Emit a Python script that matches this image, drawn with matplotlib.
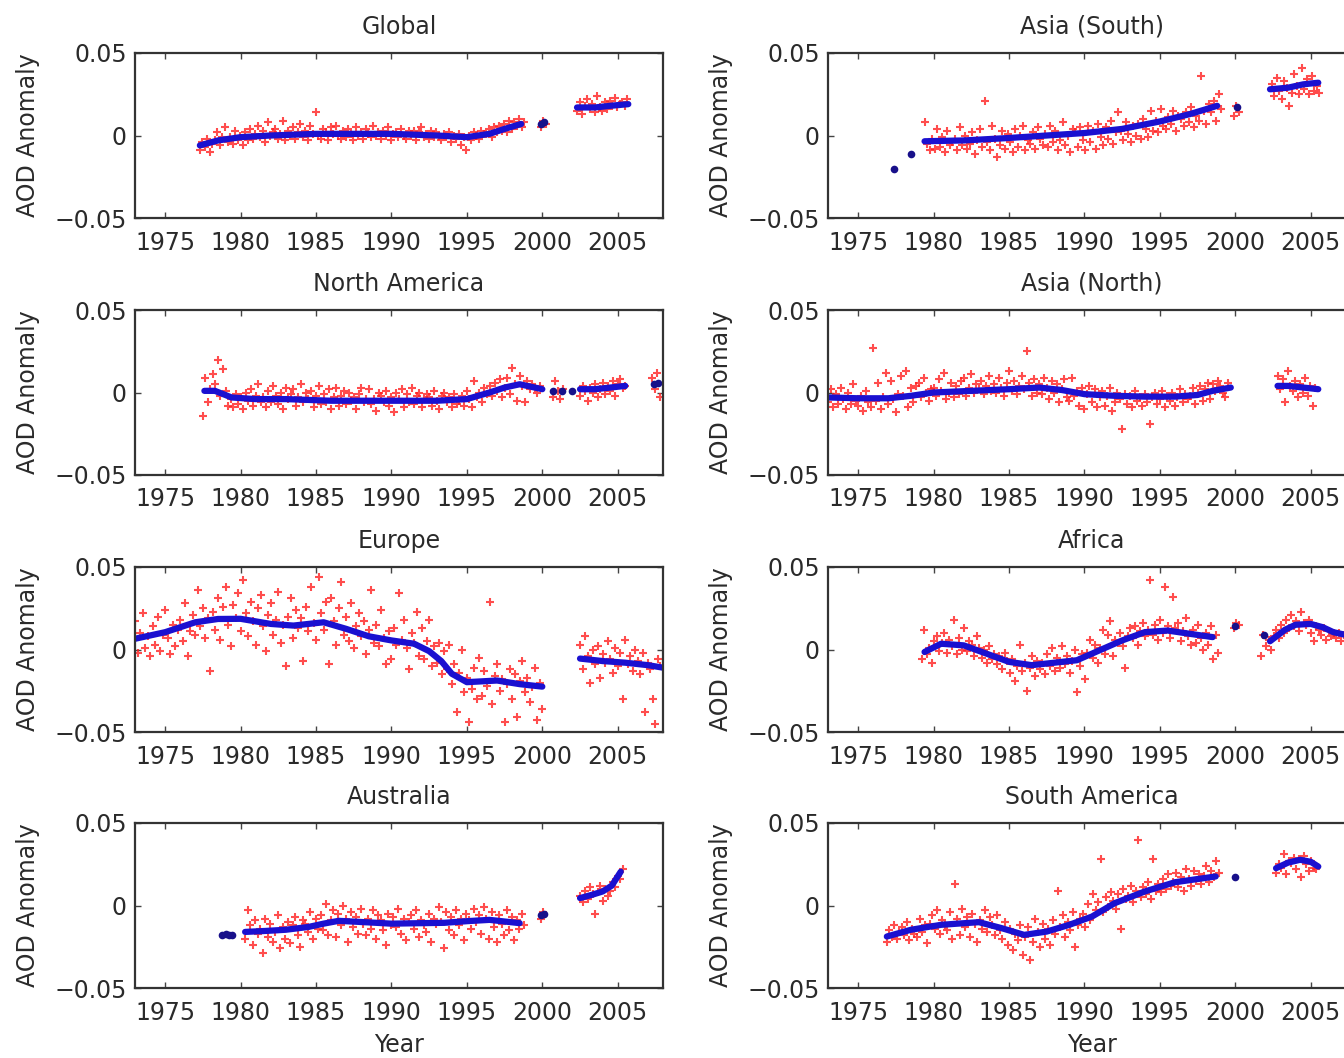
import numpy as np
import matplotlib
matplotlib.use('Agg')
from matplotlib import pyplot as plt

# red points are every two months, values below are in units of 1e-3 AOD
STEP = 1.0 / 6
SCALE = 1e-3

year_ticks = [1975, 1980, 1985, 1990, 1995, 2000, 2005]

# ---------------- Global ----------------
global_red_start = [1977.3, 1999.9, 2002.3]
global_red = [
    [-9, -4, -7, -2, -10, -5, -3, 2, -6, -1, 5, -4, -1, -5, 3, -3, 0, -6,
     2, -3, 4, -2, 1, 6, -1, 3, -4, 8, 0, 2, 4, -2, 1, 9, -3, 3,
     0, 5, -2, 2, 7, -1, 3, -3, 6, 1, 14, 0, -2, 4, 2, -3, 5, 1,
     6, 0, -2, 3, -1, 4, 1, -3, 5, 0, 2, -2, 4, 1, -1, 6, 0, 2,
     -2, 3, 0, 5, -3, 1, 2, -1, 4, 0, -2, 3, 0, 3, -3, 2, 5, -1,
     1, -2, 3, -1, 2, 0, -3, 1, -1, 2, -4, 0, -2, 1, -6, -1, -9, 0,
     -3, 2, 0, -2, 3, 1, 1, 4, -1, 5, 2, 6, 3, 7, 2, 9, 4, 8,
     6, 10, 5, 8],
    [5, 9, 7],
    [15, 20, 13, 18, 22, 16, 19, 14, 24, 17, 15, 20, 16, 21, 18, 23, 17, 19,
     20, 18, 22],
]
global_line_yr = [1977.3, 1978.5, 1980, 1982, 1985, 1988, 1990, 1993, 1995,
                  1996.5, 1997.5, 1998.6, None, 2002.3, 2003.5, 2004.5, 2005.7]
global_line_v = [-6, -3, -1, 0, 1, 1, 1, 0, -1, 1, 4, 7, None, 17, 17, 18, 19]
global_dot_yr = [1999.9, 2000.1]
global_dot_v = [7, 8]

# ---------------- Asia (South) ----------------
asias_red_start = [1979.4, 1999.9, 2002.4]
asias_red = [
    [8, -5, -9, -2, -8, 4, -7, -1, -10, 3, -6, -4, -2, -9, 5, -6, 0, -8,
     -5, 2, -11, -3, 4, -7, 21, -4, -9, 6, -2, -13, -6, 3, -8, 1, -4, -10,
     4, -7, 0, 6, -9, -3, -5, 2, -8, 5, -2, -6, 1, -7, 6, -4, 3, -9,
     -3, 8, -6, 0, -10, 4, 2, -7, 5, -3, -9, 6, -4, 3, -8, 7, -1, -6,
     5, -2, 9, -5, 2, 14, 3, -3, 8, 1, -4, 6, 0, 7, -2, 10, 4, -1,
     15, 3, 9, 2, 16, 6, 4, 11, 7, 15, 3, 12, 10, 6, 14, 8, 17, 5,
     12, 9, 36, 15, 7, 19, 14, 21, 9, 25, 16],
    [12, 18, 14],
    [31, 24, 35, 27, 22, 33, 29, 18, 26, 37, 30, 25, 41, 28, 34, 25, 36, 27,
     30, 26],
]
asias_line_yr = [1979.4, 1982, 1985, 1987.5, 1990, 1992.5, 1995, 1997, 1998.8,
                 None, 2002.3, 2003.5, 2004.5, 2005.5]
asias_line_v = [-3.5, -3, -1.5, 0, 1.5, 4, 8.5, 13, 18, None, 28, 29, 31, 32]
asias_dot_yr = [1977.4, 1978.5, 2000.1]
asias_dot_v = [-20, -11, 17]

# ---------------- North America ----------------
nam_red_start = [1977.5, 2000.7, 2002.5, 2007.3]
nam_red = [
    [-14, 9, -6, 2, 11, 5, 20, -2, 14, 1, -8, -4, -9, -1, -7, -3, -10, 0,
     -5, 2, -8, -2, 5, -6, -3, -9, 1, -6, 4, -2, -7, 0, -10, 3, -4, -1,
     2, -8, -3, 5, -6, 0, -4, 1, -9, -2, 4, -7, -1, -6, 2, -10, -3, 3,
     -8, -2, 1, -7, 0, -5, -3, -10, -1, 3, -6, -4, 2, -7, -4, -11, 0, -2,
     -6, 1, -8, -3, -12, 0, -4, 2, -9, -1, -6, 3, -7, -2, 0, -9, -4, -1,
     -3, -8, 1, -5, -10, -2, 0, -6, -3, -9, -1, -7, -5, -2, -8, 1, -4, -9,
     7, -3, 0, -6, 3, -1, 4, -2, 6, 1, 8, -3, 3, 9, -1, 15, 5, -5,
     10, 4, -6, 7, 2, 5, 3, 0, 4],
    [-3, 7, 1, -4, 2],
    [-2, 4, 1, -5, 3, 0, 5, -3, 2, 6, -1, 4, 1, 7, -2, 5, 8, 3, 4],
    [9, 2, 12, -3],
]
nam_line_yr = [1977.6, 1978.3, 1979.4, 1981, 1983, 1986, 1990, 1993, 1995,
               1996.5, 1997.5, 1998.5, 1999.5, 2000.0, None,
               2002.5, 2003.5, 2004.5, 2005.5]
nam_line_v = [1, 1, -3, -4, -4, -5, -5, -5, -4, 0, 3, 5, 3, 2, None, 2, 2, 3, 4]
nam_dot_yr = [2000.7, 2001.3, 2002.0, 2007.4, 2007.7]
nam_dot_v = [1, 1, 1, 5, 6]

# ---------------- Asia (North) ----------------
asian_red_start = [1973.0, 2002.8]
asian_red = [
    [-6, 2, -9, -1, -7, 3, -4, -10, 0, -7, 5, -5, -8, -2, -11, 1, -6, -9,
     27, -5, 6, -10, -3, 12, -7, 7, -4, -12, -1, 10, -2, 13, -9, 3, -6, 4,
     6, -3, 9, 0, -5, 2, 3, -2, 8, 1, 12, -4, 0, 6, -3, 4, -1, 7,
     9, -2, 3, 11, 0, 5, 2, 7, -1, 4, 10, 1, 5, 0, 9, 3, -2, 6,
     13, 1, 7, -1, 4, 10, 2, 25, 6, -2, 8, 0, 5, -1, 9, 3, -4, 7,
     0, 5, -6, 2, 8, -3, -5, 9, -2, 1, -8, 3, -10, -1, 4, -6, 2, -9,
     -3, 1, -8, -2, 3, -11, -6, 0, -4, -22, -1, -7, -2, -9, 1, -5, -3, -8,
     -1, -6, -19, -3, 0, -7, -4, 1, -9, -2, -5, 0, -8, -3, 2, -6, -1, -4,
     -2, 3, -7, 0, 4, -5, 2, 6, -4, 5, 1, 7, 4, 0, -3, 6],
    [10, 2, 8, -6, 13, 4, 1, 7, -3, 5, 0, 9, -2, 4, -8, 3],
]
asian_line_yr = [1973, 1975, 1977, 1978.5, 1980, 1982.5, 1985, 1987, 1988.5,
                 1990, 1992, 1994, 1996, 1997.5, 1998.5, 1999.7, None,
                 2002.8, 2003.5, 2004.5, 2005.5]
asian_line_v = [-3, -3.5, -3.5, -2, 0, 1, 2, 3, 1.5, -1, -2, -2.5, -2.5, -1.5,
                1, 3, None, 4, 4, 3, 2]
asian_dot_yr = []
asian_dot_v = []

# ---------------- Europe ----------------
eur_red_start = [1973.0, 2002.5]
eur_red = [
    [17, -2, 10, 22, 1, 8, -4, 14, 3, 20, -1, 9, 24, 7, -3, 15, 2, 12,
     18, 5, 28, -4, 11, 21, 9, 36, 14, 25, 7, 19, -13, 23, 12, 31, 6, 26,
     38, 15, 2, 27, 19, 34, 11, 42, 22, 8, 29, 17, 3, 25, 33, 14, -1, 21,
     28, 9, 18, 35, 4, 15, -10, 20, 31, 7, 24, 13, 19, -7, 26, 11, 38, 16,
     6, 44, 22, 12, 29, -9, 31, 17, 3, 25, 41, 9, 20, 5, 28, 1, 14, 22,
     8, 17, -3, 12, 36, 4, 15, 2, 24, 7, -9, 11, -6, 13, 3, 34, 6, 18,
     1, -12, 10, 4, 23, -4, 13, -6, 5, 18, -10, 2, -8, 4, -15, -1, -12, 3,
     -21, -9, -38, -14, 0, -26, -17, -44, -24, -11, -30, -5,
     -28, -13, -22, 29, -33, -16, -9, -25, -18, -44, -21, -12,
     -30, -15, -41, -19, -7, -26, -17, -32, -23, -11, -43, -20, -36],
    [3, -12, 8, -4, -20, 0, -9, 2, -17, -3, -8, 5, -6, -14, 1, -10, -2, -30,
     6, -9, -4, -13, 0, -7, -15, -2, -38, -8, -12, -30, -45, -6, -10],
]
eur_line_yr = [1973, 1975, 1977, 1978.5, 1980, 1982, 1983.5, 1985.5, 1987,
               1988.5, 1990, 1991.5, 1992.5, 1993.3, 1994, 1995, 1997, 1998.5,
               2000, None, 2002.5, 2004, 2005.5, 2007, 2008]
eur_line_v = [6.5, 10.5, 16.5, 18.5, 18.6, 15.5, 14.5, 16.5, 12.5, 8, 5.5, 3.5,
              -1, -7, -14.7, -19.8, -18.8, -21, -22.5, None,
              -5.5, -7, -8, -9.5, -11]
eur_dot_yr = []
eur_dot_v = []

# ---------------- Africa ----------------
afr_red_start = [1979.2, 1999.9, 2001.7]
afr_red = [
    [-6, 12, -3, 1, -8, 5, 8, -1, 4, 10, -2, 6, 2, 18, -3, 7, 0, 13,
     -1, 5, 3, -4, 8, 1, -5, 0, -8, 2, -6, -3, -9, -4, -12, -2, -7, -14,
     -6, -19, -10, 3, -13, -8, -25, -11, -4, -16, -7, -12,
     -8, -15, -3, -10, 1, -13, -5, -11, 2, -9, -4, -14,
     -7, 0, -26, -10, -3, -18, -2, 6, -5, 3, -8, 1, 12, -3, 9, 17, -4, 6,
     4, 10, 2, -11, 8, 13, 7, 14, 3, 11, 16, 8, 12, 42, 9, 15, 6, 18,
     10, 38, 14, 7, 32, 13, 16, 5, 11, 19, 8, 3, 12, 4, 15, 7, 0, 10,
     3, 14, -6, 9, -2],
    [13, 16, 15],
    [-4, 9, 2, 6, 0, 8, 12, 7, 15, 10, 18, 13, 21, 14, 17, 11, 23, 16,
     15, 18, 10, 5, 14, 12, 9, 13, 6, 11, 8, 10, 7, 10, 5, 9],
]
afr_line_yr = [1979.4, 1980.5, 1982, 1983.5, 1985, 1986.5, 1988, 1989.5, 1991,
               1992.5, 1994, 1995.5, 1997, 1998.5, None,
               2002.3, 2003.3, 2004, 2005, 2005.8, 2006.5, 2007.5, 2008.1]
afr_line_v = [-1.5, 3.5, 2.5, -2.5, -7.5, -9.5, -8, -6.5, -0.5, 5.5, 10.5,
              11.5, 9.5, 7.5, None, 5, 12, 15, 15.5, 13.5, 10.5, 8.5, 7.5]
afr_dot_yr = [2000.0, 2001.9]
afr_dot_v = [14.5, 9]

# ---------------- Australia ----------------
aus_red_start = [1980.3, 1999.9, 2002.5]
aus_red = [
    [-20, -3, -12, -24, -9, -17, -14, -29, -8, -19, -11, -22,
     -16, -6, -26, -13, -20, -10, -23, -12, -7, -18, -25, -9,
     -11, -16, -4, -20, -8, -14, -6, -15, 1, -18, -9, -3,
     -19, -5, -12, 0, -8, -22, -4, -13, -7, -17, -2, -11,
     -18, -8, -14, -3, -20, -6, -9, -15, -24, -5, -12, -7,
     -13, -2, -17, -8, -21, -10, -6, -14, -3, -19, -9, -12,
     -16, -5, -22, -8, -11, -1, -10, -26, -4, -15, -7, -18,
     -3, -12, -8, -21, -5, -9, -14, -2, -10, -6, -17, -1,
     -8, -20, -4, -13, -22, -6, -11, -18, -3, -15, -7, -21,
     -9, -14, -5, -12],
    [-8, -4],
    [6, 2, 9, 4, 11, 7, -5, 8, 12, 3, 10, 6, 9, 14, 11, 18, 16, 22],
]
aus_line_yr = [1980.3, 1981.5, 1983, 1984.5, 1985.5, 1986.5, 1988, 1990, 1992,
               1993.5, 1995, 1996.5, 1998.5, None,
               2002.5, 2003.3, 2004, 2004.6, 2005.2]
aus_line_v = [-16, -15.5, -14.7, -13, -11, -9.3, -10, -11, -10.7, -10.5, -9.5,
              -8.7, -10.7, None, 4.5, 6.5, 8.5, 12, 20.5]
aus_dot_yr = [1978.8, 1979.0, 1979.2, 1979.4, 1999.9, 2000.1]
aus_dot_v = [-17.8, -17.5, -18, -17.6, -5.7, -5]

# ---------------- South America ----------------
sam_red_start = [1976.9, 2002.7]
sam_red = [
    [-22, -15, -19, -12, -20, -16, -13, -18, -10, -21, -14, -17,
     -19, -8, -16, -12, -23, -11, -6, -14, -3, -17, -9, -12,
     -15, -4, -20, 13, -8, -18, -2, -13, -7, -19, -5, -11,
     -22, -9, -14, -3, -16, -7, -12, -18, -6, -15, -20, -10,
     -24, -14, -27, -17, -21, -12, -30, -19, -13, -33, -22, -8,
     -16, -25, -11, -20, -14, -24, -9, -17, 9, -13, -6, -19,
     -10, -15, -4, -25, -12, -8, -5, -13, 1, -9, 7, -3,
     2, 28, -4, 5, -1, 8, 3, -2, 7, -14, 10, 4, 6, 12, 2, 9, 40, 5,
     11, 7, 14, 4, 28, 9, 13, 8, 16, 10, 19, 12, 14, 20, 11, 17, 9, 22,
     16, 12, 21, 15, 19, 13, 18, 24, 14, 21, 17, 27, 20],
    [20, 25, 23, 31, 19, 27, 26, 29, 22, 28, 17, 30, 25, 21, 27, 23, 22],
]
sam_line_yr = [1976.9, 1978.5, 1980.5, 1983, 1984.5, 1986, 1987.5, 1989,
               1990.5, 1992, 1994, 1996, 1998.7, None,
               2002.7, 2003.5, 2004.3, 2005, 2005.5]
sam_line_v = [-18.8, -14.7, -11.7, -10.1, -13.7, -17.8, -15.8, -11.7, -6.7,
              1.4, 8.5, 14.1, 17.6, None, 22.6, 26, 27.7, 26.5, 23.6]
sam_dot_yr = [2000.0]
sam_dot_v = [17]

panels = [
    ('Global', 0, 0, global_red_start, global_red, global_line_yr, global_line_v, global_dot_yr, global_dot_v),
    ('Asia (South)', 0, 1, asias_red_start, asias_red, asias_line_yr, asias_line_v, asias_dot_yr, asias_dot_v),
    ('North America', 1, 0, nam_red_start, nam_red, nam_line_yr, nam_line_v, nam_dot_yr, nam_dot_v),
    ('Asia (North)', 1, 1, asian_red_start, asian_red, asian_line_yr, asian_line_v, asian_dot_yr, asian_dot_v),
    ('Europe', 2, 0, eur_red_start, eur_red, eur_line_yr, eur_line_v, eur_dot_yr, eur_dot_v),
    ('Africa', 2, 1, afr_red_start, afr_red, afr_line_yr, afr_line_v, afr_dot_yr, afr_dot_v),
    ('Australia', 3, 0, aus_red_start, aus_red, aus_line_yr, aus_line_v, aus_dot_yr, aus_dot_v),
    ('South America', 3, 1, sam_red_start, sam_red, sam_line_yr, sam_line_v, sam_dot_yr, sam_dot_v),
]

plt.rcParams['font.family'] = ['DejaVu Sans']
text_col = '#2a2a2a'

W, H = 1344.0, 1058.0
fig = plt.figure(figsize=(W / 100, H / 100), dpi=100)

col_left = [135, 828]
row_top = [53, 310, 567, 823]
ax_w, ax_h = 528, 165

for title, r, c, red_start, red_vals, line_yr, line_v, dot_yr, dot_v in panels:
    ax = fig.add_axes([col_left[c] / W, 1 - (row_top[r] + ax_h) / H, ax_w / W, ax_h / H])

    for start, vals in zip(red_start, red_vals):
        vals = np.array(vals, dtype=float) * SCALE
        t = start + STEP * np.arange(len(vals))
        ax.plot(t, vals, '+', color='#ff2020', ms=6, mew=1.5, alpha=0.8)

    ly = np.array(line_yr, dtype=float)
    lv = np.array(line_v, dtype=float) * SCALE
    ax.plot(ly, lv, '-', color='#1a10d0', lw=4.5, solid_capstyle='round')
    if dot_yr:
        ax.plot(dot_yr, np.array(dot_v) * SCALE, 'o', color='#18108a',
                ms=5.5, mec='none')

    ax.set_xlim(1973, 2008)
    ax.set_ylim(-0.05, 0.05)
    ax.set_xticks(year_ticks)
    ax.set_xticklabels([str(y) for y in year_ticks])
    ax.set_yticks([-0.05, 0, 0.05])
    ax.set_yticklabels(['\u22120.05', '0', '0.05'])
    ax.tick_params(direction='in', top=True, right=True, length=4,
                   width=1, colors='#444444', labelcolor=text_col, labelsize=17)
    ax.tick_params(axis='x', pad=9)
    ax.tick_params(axis='y', pad=6)
    for sp in ax.spines.values():
        sp.set_color('#333333')
        sp.set_linewidth(1.6)

    ax.set_title(title, fontsize=17, color=text_col, pad=14)
    ax.set_ylabel('AOD Anomaly', fontsize=17, color=text_col)
    ax.yaxis.set_label_coords(-0.18, 0.5)
    if r == 3:
        ax.set_xlabel('Year', fontsize=17, color=text_col)
        ax.xaxis.set_label_coords(0.5, -0.27)

fig.savefig('out.png', dpi=100)
